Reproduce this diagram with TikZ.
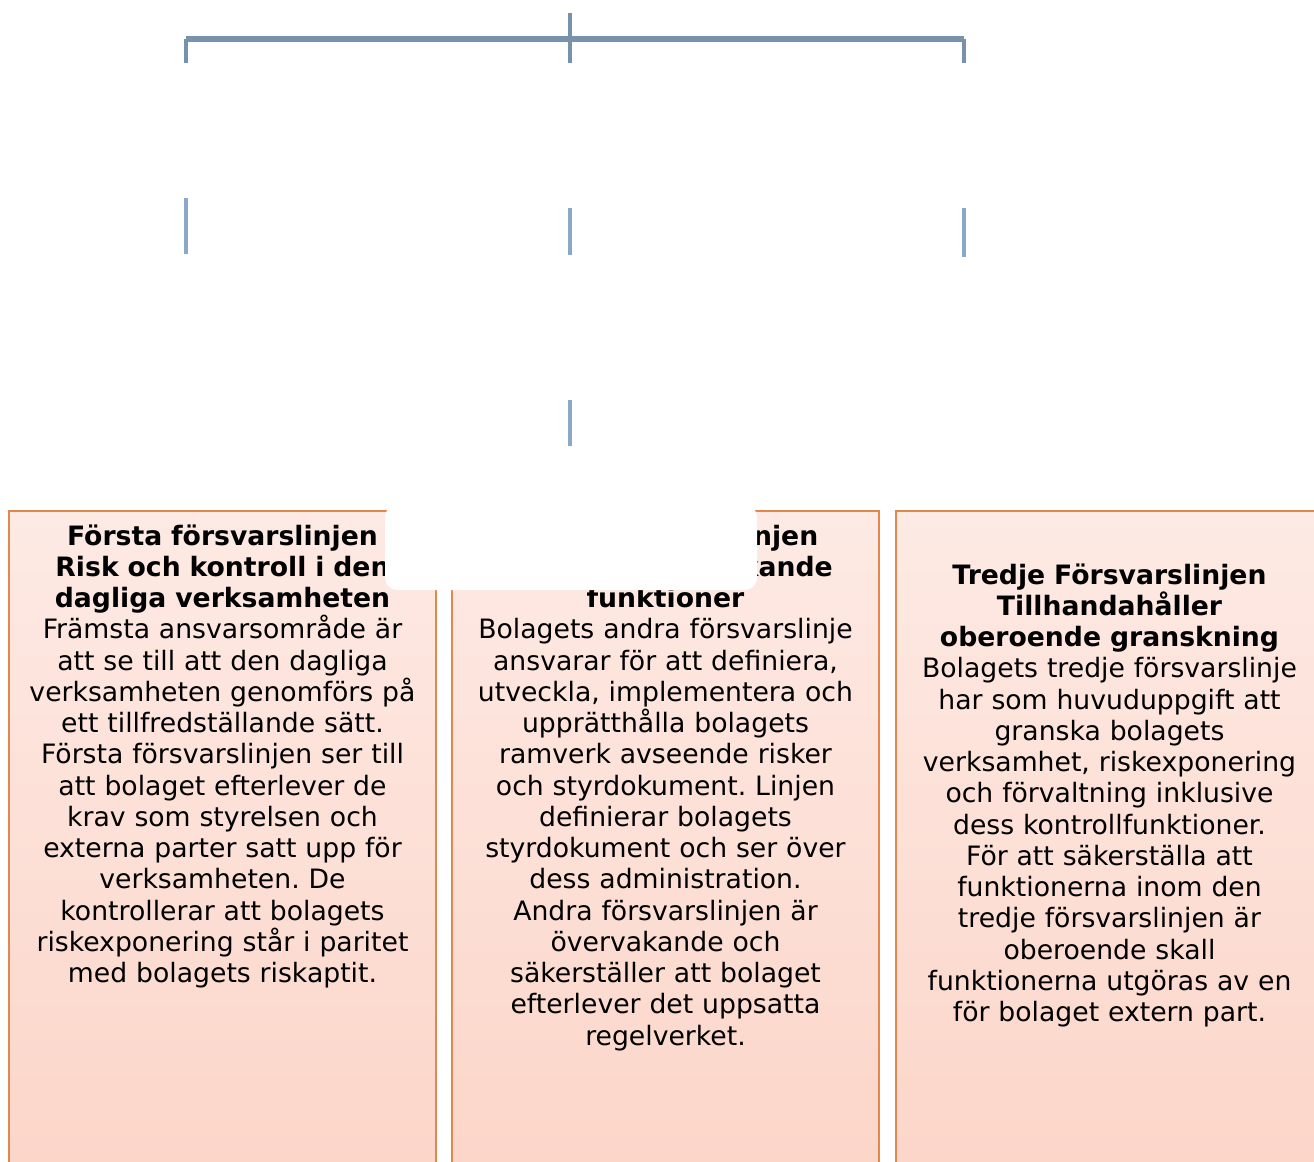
\documentclass[tikz,border=0pt]{standalone}
\usepackage{fontspec}
\setmainfont{DejaVu Sans}
\frenchspacing
\definecolor{connA}{HTML}{7892AB}
\definecolor{connB}{HTML}{88A9C7}
\definecolor{boxedge}{HTML}{E4874F}
\definecolor{boxtop}{HTML}{FDEAE4}
\definecolor{boxbot}{HTML}{FCD5C8}

\begin{document}
\begin{tikzpicture}[x=0.75pt, y=-0.75pt,
  connbar/.style={connA, line width=4.5pt},
  conn/.style={connA, line width=3pt},
  drop/.style={connB, line width=3pt},
  linebox/.style={draw=boxedge, line width=1.5pt, top color=boxtop, bottom color=boxbot},
  boxtext/.style={anchor=base, inner sep=0pt, text width=300pt, align=center,
    font=\fontsize{20}{23.45}\selectfont}]
\useasboundingbox (0,0) rectangle (1314,1162);
\clip (0,0) rectangle (1314,1162);
% top connector
\coordinate (root) at (570,13);
\coordinate (hub) at (570,39);
\coordinate (barL) at (186,39);
\coordinate (barR) at (964,39);
\coordinate (topL) at (186,63);
\coordinate (topM) at (570,63);
\coordinate (topR) at (964,63);
\draw[connbar] (barL) -- (barR);
\draw[conn] (root) -- (topM);
\draw[conn] (barL) -- (topL);
\draw[conn] (barR) -- (topR);
% loose drops
\coordinate (midLa) at (186,198);
\coordinate (midLb) at (186,254);
\coordinate (midMa) at (570,208);
\coordinate (midMb) at (570,255);
\coordinate (midRa) at (964,208);
\coordinate (midRb) at (964,257);
\coordinate (lowMa) at (570,400);
\coordinate (lowMb) at (570,446);
\draw[drop] (midLa) -- (midLb);
\draw[drop] (midMa) -- (midMb);
\draw[drop] (midRa) -- (midRb);
\draw[drop] (lowMa) -- (lowMb);
% the three lines of defence
\path[linebox] (9,511) rectangle (436,1185);
\path[linebox] (452,511) rectangle (879,1185);
\path[linebox] (896,511) rectangle (1330,1185);
\node[boxtext] (first) at (222.5,545) {\textbf{Första försvarslinjen\\Risk och kontroll i den\\dagliga verksamheten}\\
  Främsta ansvarsområde är\\att se till att den dagliga\\verksamheten genomförs på\\ett tillfredställande sätt.\\
  Första försvarslinjen ser till\\att bolaget efterlever de\\krav som styrelsen och\\externa parter satt upp för\\
  verksamheten. De\\kontrollerar att bolagets\\riskexponering står i paritet\\med bolagets riskaptit.};
\node[boxtext] (second) at (665.5,545) {\textbf{Andra försvarslinjen\\Stöd och övervakande\\funktioner}\\
  Bolagets andra försvarslinje\\ansvarar för att definiera,\\utveckla, implementera och\\upprätthålla bolagets\\
  ramverk avseende risker\\och styrdokument. Linjen\\definierar bolagets\\styrdokument och ser över\\
  dess administration.\\Andra försvarslinjen är\\övervakande och\\säkerställer att bolaget\\
  efterlever det uppsatta\\regelverket.};
\node[boxtext] (third) at (1109.5,584) {\textbf{Tredje Försvarslinjen\\Tillhandahåller\\oberoende granskning}\\
  Bolagets tredje försvarslinje\\har som huvuduppgift att\\granska bolagets\\verksamhet, riskexponering\\
  och förvaltning inklusive\\dess kontrollfunktioner.\\För att säkerställa att\\funktionerna inom den\\
  tredje försvarslinjen är\\oberoende skall\\funktionerna utgöras av en\\för bolaget extern part.};
% white card over the top
\fill[white, rounded corners=9pt] (385,505) rectangle (757,590);
\end{tikzpicture}
\end{document}
